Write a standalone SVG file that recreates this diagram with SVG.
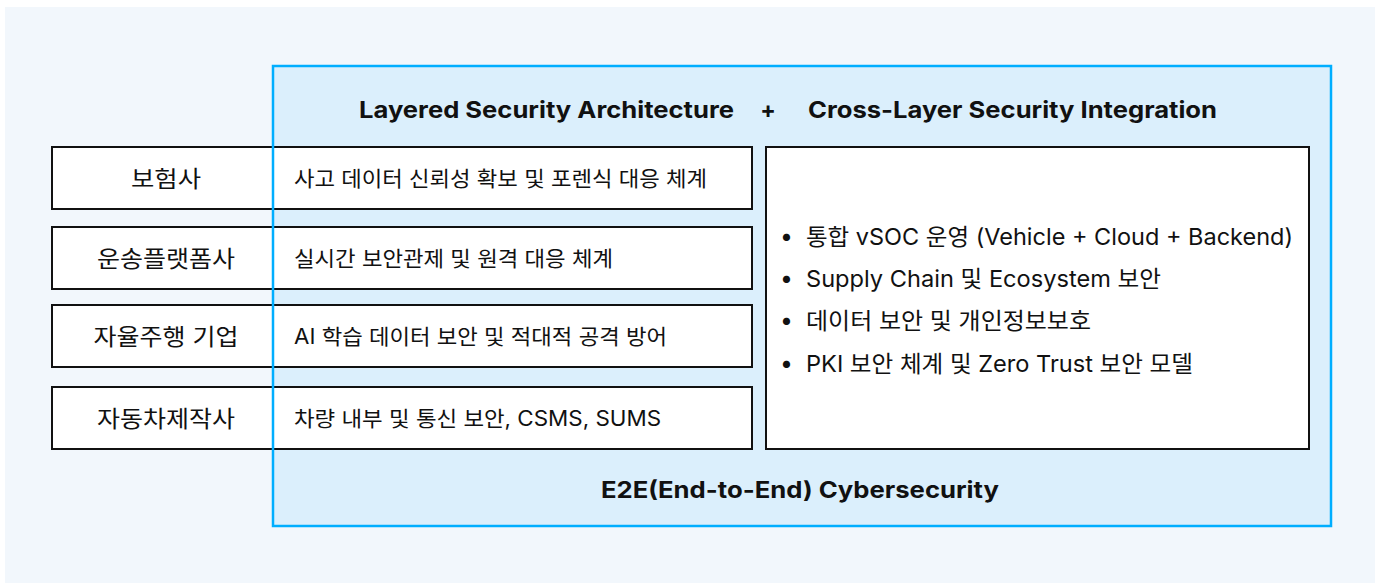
<svg xmlns="http://www.w3.org/2000/svg" width="1375" height="583" viewBox="0 0 1375 583">
  <style>
    .bg { fill: #f2f7fc; }
    .frame-fill { fill: #dbeffc; }
    .frame-line { fill: none; stroke: #00aeff; stroke-width: 2.5; }
    .box { fill: #ffffff; stroke: #111111; stroke-width: 2; }
    text { font-family: Inter, "Noto Sans", "Noto Sans CJK KR", sans-serif; fill: #111111; }
    .title { font-weight: 700; font-size: 23px; }
    .actor { font-size: 23px; text-anchor: middle; }
    .role { font-size: 21px; }
    .item { font-size: 23px; }
  </style>

  <!-- backdrop -->
  <rect class="bg" x="5" y="7" width="1370" height="576"/>

  <!-- E2E security frame (fill) -->
  <rect class="frame-fill" x="273" y="66" width="1058" height="460"/>

  <text class="title" x="359" y="118" textLength="375" lengthAdjust="spacingAndGlyphs">Layered Security Architecture</text>
  <text class="title" x="768" y="118" text-anchor="middle">+</text>
  <text class="title" x="808" y="118" textLength="409" lengthAdjust="spacingAndGlyphs">Cross-Layer Security Integration</text>

  <!-- layered rows: stakeholder + responsibility -->
  <g id="row-insurer">
    <rect class="box" x="52" y="147" width="700" height="62"/>
    <text class="actor" x="166" y="187" textLength="70" lengthAdjust="spacingAndGlyphs">보험사</text>
    <text class="role" x="294" y="186" textLength="413" lengthAdjust="spacingAndGlyphs">사고 데이터 신뢰성 확보 및 포렌식 대응 체계</text>
  </g>
  <g id="row-platform">
    <rect class="box" x="52" y="227" width="700" height="62"/>
    <text class="actor" x="166" y="267" textLength="138" lengthAdjust="spacingAndGlyphs">운송플랫폼사</text>
    <text class="role" x="294" y="266" textLength="319" lengthAdjust="spacingAndGlyphs">실시간 보안관제 및 원격 대응 체계</text>
  </g>
  <g id="row-autonomous">
    <rect class="box" x="52" y="305" width="700" height="62"/>
    <text class="actor" x="166" y="345" textLength="145" lengthAdjust="spacingAndGlyphs">자율주행 기업</text>
    <text class="role" x="294" y="344" textLength="373" lengthAdjust="spacingAndGlyphs">AI 학습 데이터 보안 및 적대적 공격 방어</text>
  </g>
  <g id="row-oem">
    <rect class="box" x="52" y="387" width="700" height="62"/>
    <text class="actor" x="166" y="427" textLength="138" lengthAdjust="spacingAndGlyphs">자동차제작사</text>
    <text class="role" x="294" y="426" textLength="367" lengthAdjust="spacingAndGlyphs">차량 내부 및 통신 보안, CSMS, SUMS</text>
  </g>

  <!-- cross-layer integration list -->
  <g id="cross-layer">
    <rect class="box" x="766" y="147" width="543" height="302"/>
    <text class="item" x="780" y="244">•</text>
    <text class="item" x="806" y="245" textLength="487" lengthAdjust="spacingAndGlyphs">통합 vSOC 운영 (Vehicle + Cloud + Backend)</text>
    <text class="item" x="780" y="286">•</text>
    <text class="item" x="806" y="287" textLength="355" lengthAdjust="spacingAndGlyphs">Supply Chain 및 Ecosystem 보안</text>
    <text class="item" x="780" y="328">•</text>
    <text class="item" x="806" y="329" textLength="285" lengthAdjust="spacingAndGlyphs">데이터 보안 및 개인정보보호</text>
    <text class="item" x="780" y="371">•</text>
    <text class="item" x="806" y="372" textLength="387" lengthAdjust="spacingAndGlyphs">PKI 보안 체계 및 Zero Trust 보안 모델</text>
  </g>

  <text class="title" x="601" y="498" textLength="398" lengthAdjust="spacingAndGlyphs">E2E(End-to-End) Cybersecurity</text>

  <!-- frame outline drawn over the rows -->
  <g id="connectors">
    <rect class="frame-line" x="273" y="66" width="1058" height="460"/>
  </g>
</svg>
